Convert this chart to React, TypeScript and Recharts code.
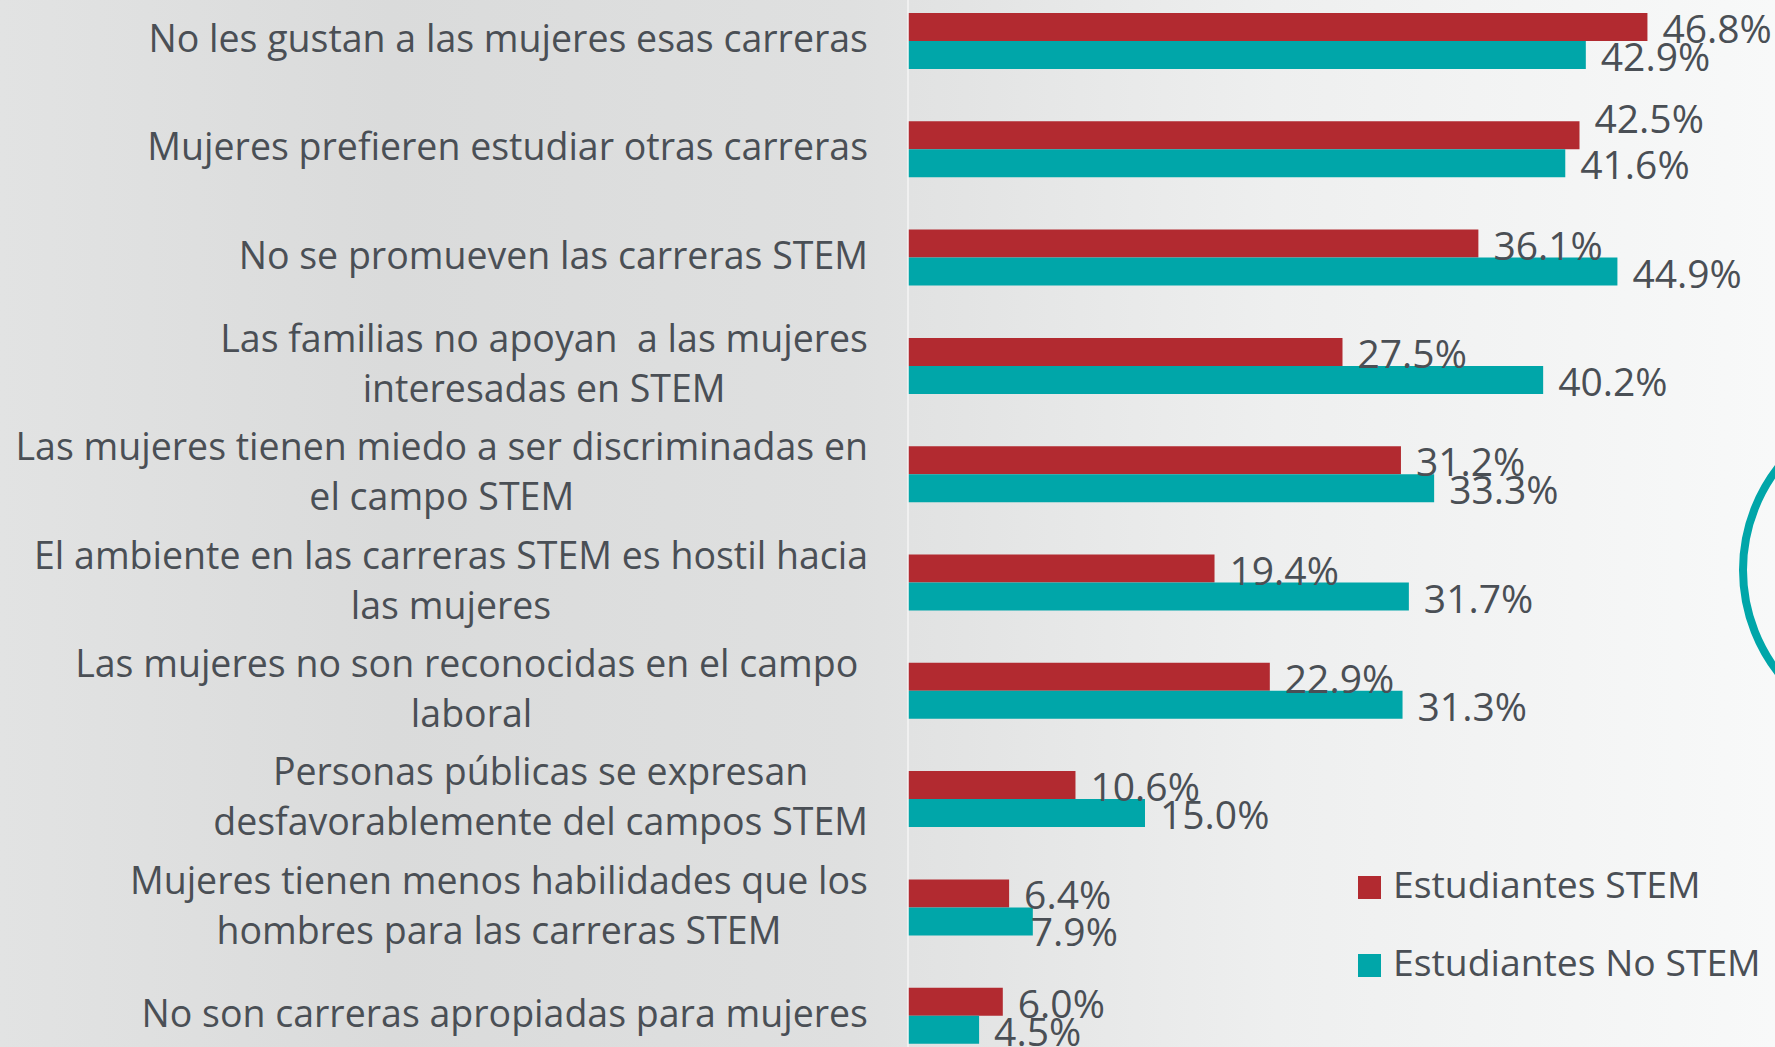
import React from 'react';
import { BarChart, Bar, XAxis, YAxis, LabelList, Legend } from 'recharts';

const categories: string[] = [
  'No les gustan a las mujeres esas carreras',
  'Mujeres prefieren estudiar otras carreras',
  'No se promueven las carreras STEM',
  'Las familias no apoyan  a las mujeres\ninteresadas en STEM',
  'Las mujeres tienen miedo a ser discriminadas en\nel campo STEM',
  'El ambiente en las carreras STEM es hostil hacia\nlas mujeres',
  'Las mujeres no son reconocidas en el campo \nlaboral',
  'Personas públicas se expresan\ndesfavorablemente del campos STEM',
  'Mujeres tienen menos habilidades que los\nhombres para las carreras STEM',
  'No son carreras apropiadas para mujeres',
];

const stemValues: number[] = [46.8, 42.5, 36.1, 27.5, 31.2, 19.4, 22.9, 10.6, 6.4, 6.0];
const noStemValues: number[] = [42.9, 41.6, 44.9, 40.2, 33.3, 31.7, 31.3, 15.0, 7.9, 4.5];

const seriesNames: string[] = ['Estudiantes STEM', 'Estudiantes No STEM'];

const RED = '#B22A30';
const TEAL = '#00A6A9';
const TEXT = '#4a4f55';
const FONT = '"Open Sans", sans-serif';

const CAT_FONT = 37.5;
const CAT_LINE_H = 50;
const CAT_RIGHT = 868;
const VAL_FONT = 39;
const LEG_FONT = 37.3;

// manual label nudges (as placed in the original slide)
const LABEL_NUDGE: Record<string, Record<number, { dx: number; dy: number }>> = {
  stem: { 1: { dx: 0, dy: -18 } },
  noStem: { 8: { dx: -17, dy: 9 } },
};

const data = categories.map((c, i) => ({
  category: c,
  stem: stemValues[i],
  noStem: noStemValues[i],
}));

let measureCtx: CanvasRenderingContext2D | null = null;
function textWidth(s: string, size: number): number {
  if (!measureCtx && typeof document !== 'undefined') {
    measureCtx = document.createElement('canvas').getContext('2d');
  }
  if (!measureCtx) return s.length * size * 0.5;
  measureCtx.font = `${size}px "Open Sans"`;
  return measureCtx.measureText(s).width;
}

const CategoryTick = (props: any) => {
  const { y, payload } = props;
  const lines = String(payload.value).split('\n');
  const widths = lines.map((l) => textWidth(l, CAT_FONT));
  const blockW = Math.max(...widths);
  const cx = CAT_RIGHT - blockW / 2;
  const n = lines.length;
  return (
    <g>
      {lines.map((l, i) => (
        <text
          key={i}
          x={cx}
          y={y + (i - (n - 1) / 2) * CAT_LINE_H + 11}
          textAnchor="middle"
          fontSize={CAT_FONT}
          fontFamily={FONT}
          fill={TEXT}
          style={{ whiteSpace: 'pre' }}
        >
          {l}
        </text>
      ))}
    </g>
  );
};

const makeLabel = (key: string) => (props: any) => {
  const { x, y, width, height, value, index } = props;
  const n = (LABEL_NUDGE[key] && LABEL_NUDGE[key][index]) || { dx: 0, dy: 0 };
  return (
    <text
      x={Number(x) + Number(width) + 15 + n.dx}
      y={Number(y) + Number(height) / 2 + 16 + n.dy}
      fontSize={VAL_FONT}
      fontFamily={FONT}
      fill={TEXT}
    >
      {Number(value).toFixed(1)}%
    </text>
  );
};

const LegendContent = () => (
  <div style={{ position: 'relative', width: 420, height: 160 }}>
    {seriesNames.map((name, i) => (
      <div key={name} style={{ position: 'absolute', left: 0, top: i * 78.3, height: 78, width: 420 }}>
        <div
          style={{
            position: 'absolute',
            left: 0,
            top: 11,
            width: 23,
            height: 23,
            background: i === 0 ? RED : TEAL,
          }}
        />
        <div
          style={{
            position: 'absolute',
            left: 35,
            top: 0,
            fontSize: LEG_FONT,
            lineHeight: `${LEG_FONT}px`,
            fontFamily: FONT,
            color: TEXT,
            whiteSpace: 'nowrap',
          }}
        >
          {name}
        </div>
      </div>
    ))}
  </div>
);

export default function App() {
  return (
    <div
      style={{
        position: 'absolute',
        left: 0,
        top: 0,
        width: 1775,
        height: 1047,
        overflow: 'hidden',
        background:
          'linear-gradient(to right, #e2e3e3 0%, #dadbdb 22%, #dfe0e0 48%, #eeefef 72%, #f8f9f9 100%)',
      }}
    >
      <div
        style={{
          position: 'absolute',
          left: 1739,
          top: 399,
          width: 342,
          height: 342,
          borderRadius: '50%',
          border: `8px solid ${TEAL}`,
          boxSizing: 'border-box',
        }}
      />
      <div style={{ position: 'absolute', left: 0, top: -20 }}>
        <BarChart
          width={1775}
          height={1100}
          data={data}
          layout="vertical"
          margin={{ top: 7, right: 77, bottom: 10, left: 0 }}
          barSize={28}
          barGap={0}
        >
          <XAxis type="number" domain={[0, 50]} hide />
          <YAxis
            type="category"
            dataKey="category"
            width={908}
            interval={0}
            tickLine={false}
            axisLine={{ stroke: '#f4f4f4', strokeWidth: 1.5 }}
            tick={<CategoryTick />}
          />
          <Legend
            layout="vertical"
            align="center"
            verticalAlign="middle"
            content={<LegendContent />}
            wrapperStyle={{ position: 'absolute', left: 1358, top: 885, width: 420, height: 160 }}
          />
          <Bar dataKey="stem" name={seriesNames[0]} fill={RED} isAnimationActive={false}>
            <LabelList dataKey="stem" content={makeLabel('stem')} />
          </Bar>
          <Bar dataKey="noStem" name={seriesNames[1]} fill={TEAL} isAnimationActive={false}>
            <LabelList dataKey="noStem" content={makeLabel('noStem')} />
          </Bar>
        </BarChart>
      </div>
    </div>
  );
}
